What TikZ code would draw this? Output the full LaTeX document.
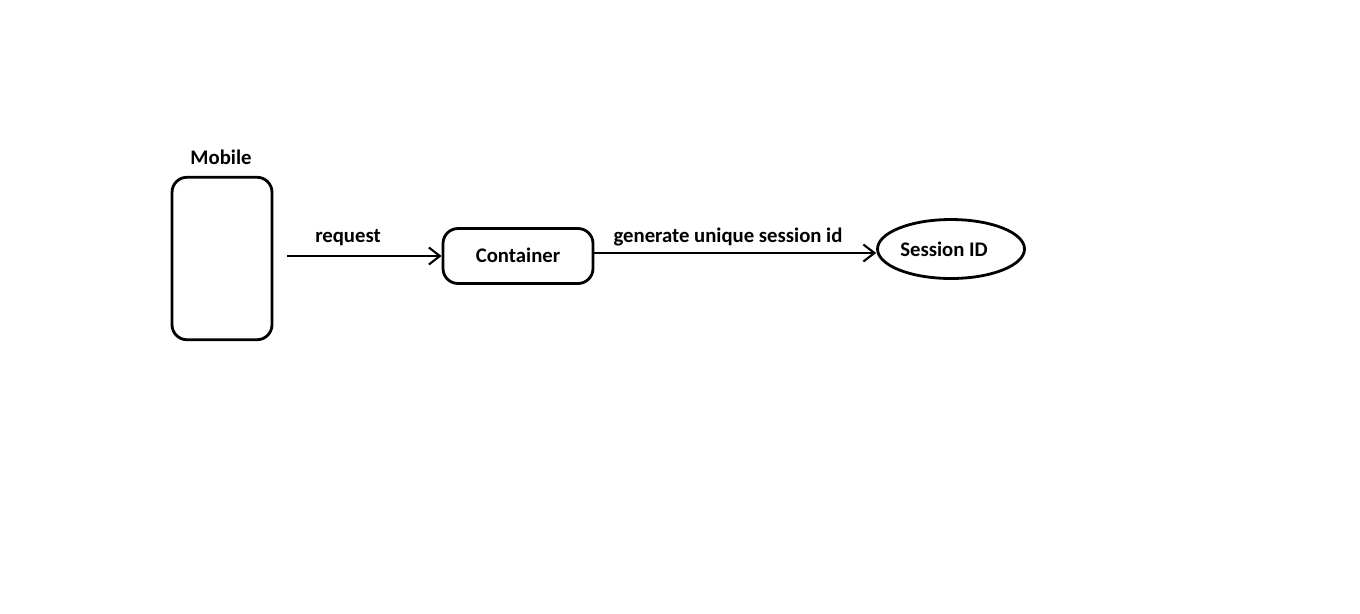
\documentclass[tikz,border=0pt]{standalone}
\usepackage{fontspec}
\setmainfont{Carlito}
\usetikzlibrary{shapes.geometric,arrows.meta}
\tikzset{
  box/.style={draw,line width=1.6pt,rounded corners=0.3cm},
  arr/.style={line width=1.6pt,-{Straight Barb[length=0.22cm,width=0.34cm,line width=1.2pt]}},
  lbl/.style={font=\fontsize{11.8}{14}\selectfont\bfseries,inner sep=0pt}
}
\begin{document}
\begin{tikzpicture}[x=0.02cm,y=-0.02cm]
\useasboundingbox(0,0)rectangle(1360,613);
%
\node[box,minimum width=2.0cm,minimum height=3.25cm](mobile)at(222,258.5){};
\node[lbl](mobilelbl)at(221,157){Mobile};
\node[box,minimum width=3.0cm,minimum height=1.1cm](container)at(518,256){};
\node[lbl](containerlbl)at(518,255){Container};
\node[draw,ellipse,line width=1.6pt,minimum width=2.94cm,minimum height=1.18cm](session)at(951,249){};
\node[lbl](sessionlbl)at(944,249){Session ID};
%
\draw[arr,shorten <=0.28cm](mobile.east|-container.west)--(container.west);
\draw[arr]([yshift=0.06cm]container.east)--([yshift=0.06cm]container.east-|session.west);
%
\node[lbl](reqlbl)at(348,238){request};
\node[lbl](genlbl)at(728,237){generate unique session id};
\end{tikzpicture}
\end{document}
